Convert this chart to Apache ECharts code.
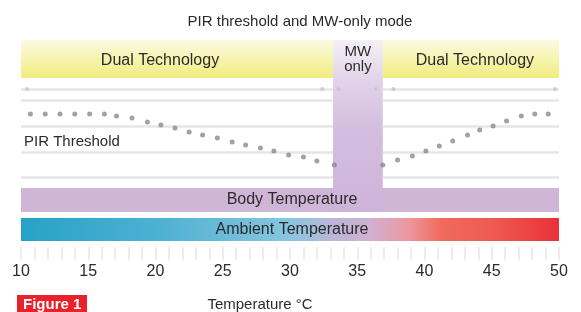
<!DOCTYPE html>
<html>
<head>
<meta charset="utf-8">
<script src="https://cdn.jsdelivr.net/npm/echarts@6/dist/echarts.min.js"></script>
<style>
  html, body { margin: 0; padding: 0; background: #fff; }
  #chart { width: 581px; height: 312px; }
</style>
</head>
<body>
<div id="chart"></div>
<script>
// temperature ranges of each mode (degC)
const dualRanges = [[10, 33.2], [36.9, 50]]
const mwRange = [33.2, 36.9]
const bodyRange = [10, 50]
const ambientRange = [10, 50]

// PIR threshold dots: temperature and relative threshold level
const pirTemps = [10.7, 11.8, 12.9, 14.0, 15.1, 16.2, 17.1, 18.25, 19.4, 20.4, 21.45, 22.5, 23.5, 24.6,
    25.7, 26.7, 27.8, 28.8, 29.9, 31.0, 32.0, 33.3,
    36.9, 38.0, 39.1, 40.1, 41.1, 42.1, 43.2, 44.1, 45.1, 46.1, 47.2, 48.2, 49.2]
const pirLevels = [133, 133, 133, 133, 133, 133, 131, 129, 125, 122, 119, 115, 112, 109,
    105, 102, 99, 96, 92, 90, 86, 82,
    82, 87, 91, 96, 101, 106, 112, 117, 121, 126, 131, 133, 133]

// small end markers on the top guide line
const markerTemps = [10.45, 32.4, 33.6, 36.4, 37.7, 49.7]
const markerLevel = 158

// faint guide lines
const guideLevels = [158, 147, 121, 95, 70]

const xTicks = [10, 15, 20, 25, 30, 35, 40, 45, 50]

// vertical layout of the bands in y-axis units (axis 0..207)
const band = {
    top: 207, yellowBottom: 169, mwBottom: 35,
    bodyTop: 59, bodyBottom: 35, ambientTop: 29, ambientBottom: 6
}

const textFont = 'Liberation Sans'
const textColor = '#2b2b2b'

const myChart = echarts.init(document.getElementById('chart'))

// guide lines run only across the dual technology zones
const guideSegments = []
guideLevels.forEach(v => {
    dualRanges.forEach(r => {
        guideSegments.push([{ xAxis: r[0], yAxis: v }, { xAxis: r[1], yAxis: v }])
    })
})

myChart.setOption({
    animation: false,
    title: {
        text: 'PIR threshold and MW-only mode',
        left: 295,
        top: 9,
        textAlign: 'center',
        textStyle: { fontFamily: textFont, fontSize: 15, fontWeight: 'normal', color: textColor }
    },
    grid: {
        left: 21,
        right: 22,
        top: 40,
        bottom: 65,
        outerBoundsMode: 'none',
        containLabel: false
    },
    xAxis: {
        type: 'value',
        min: xTicks[0],
        max: xTicks[xTicks.length - 1],
        interval: 5,
        name: 'Temperature °C',
        nameLocation: 'middle',
        nameGap: 50,
        nameTextStyle: { fontFamily: textFont, fontSize: 15, color: textColor, padding: [0, 60, 0, 0] },
        axisLine: { show: false },
        axisTick: { show: true, length: 13, lineStyle: { color: '#efe3e8', width: 1.5 } },
        minorTick: { show: true, splitNumber: 5, length: 13, lineStyle: { color: '#efe3e8', width: 1.5 } },
        splitLine: { show: false },
        axisLabel: { margin: 17, fontFamily: textFont, fontSize: 16, color: textColor }
    },
    yAxis: {
        type: 'value',
        min: 0,
        max: band.top,
        show: false
    },
    graphic: [
        {
            type: 'rect',
            left: 17,
            top: 295,
            shape: { width: 70, height: 20 },
            style: { fill: '#e8212b' }
        },
        {
            type: 'text',
            left: 23,
            top: 297,
            style: { text: 'Figure 1', fill: '#fff', font: 'bold 15px "Liberation Sans"' }
        },
        {
            type: 'text',
            left: 24,
            top: 134,
            style: { text: 'PIR Threshold', fill: textColor, font: '15px "Liberation Sans"' }
        }
    ],
    series: [
        {
            name: 'guides',
            type: 'line',
            data: [],
            z: 1,
            markLine: {
                silent: true,
                symbol: 'none',
                label: { show: false },
                lineStyle: { color: '#e6e6e6', width: 2.5, type: 'solid' },
                data: guideSegments
            }
        },
        {
            name: 'Dual Technology',
            type: 'line',
            data: [],
            z: 2,
            markArea: {
                silent: true,
                itemStyle: {
                    color: {
                        type: 'linear', x: 0, y: 0, x2: 0, y2: 1,
                        colorStops: [
                            { offset: 0, color: '#fbfae2' },
                            { offset: 0.55, color: '#f6f3ab' },
                            { offset: 1, color: '#f1ec7e' }
                        ]
                    }
                },
                label: {
                    position: 'inside',
                    fontFamily: textFont, fontSize: 16, color: textColor
                },
                data: dualRanges.map((r, i) => [
                    { name: 'Dual Technology', xAxis: r[0], yAxis: band.top,
                      label: { offset: [i === 0 ? -17 : 4, 2] } },
                    { xAxis: r[1], yAxis: band.yellowBottom }
                ])
            }
        },
        {
            name: 'Body Temperature',
            type: 'line',
            data: [],
            z: 3,
            markArea: {
                silent: true,
                itemStyle: { color: '#cfb5d6' },
                label: {
                    position: 'inside',
                    offset: [2, 0],
                    fontFamily: textFont, fontSize: 16, color: textColor
                },
                data: [[
                    { name: 'Body Temperature', xAxis: bodyRange[0], yAxis: band.bodyTop },
                    { xAxis: bodyRange[1], yAxis: band.bodyBottom }
                ]]
            }
        },
        {
            name: 'MW only',
            type: 'line',
            data: [],
            z: 4,
            markArea: {
                silent: true,
                itemStyle: {
                    color: {
                        type: 'linear', x: 0, y: 0, x2: 0, y2: 1,
                        colorStops: [
                            { offset: 0, color: '#f4f0f6' },
                            { offset: 0.25, color: '#e0d2e8' },
                            { offset: 0.5, color: '#d4bfe0' },
                            { offset: 1, color: '#cdb3d8' }
                        ]
                    }
                },
                label: {
                    position: 'insideTop',
                    distance: 4,
                    lineHeight: 15,
                    fontFamily: textFont, fontSize: 15, color: textColor
                },
                data: [[
                    { name: 'MW\nonly', xAxis: mwRange[0], yAxis: band.top },
                    { xAxis: mwRange[1], yAxis: band.mwBottom }
                ]]
            }
        },
        {
            name: 'Ambient Temperature',
            type: 'line',
            data: [],
            z: 5,
            markArea: {
                silent: true,
                itemStyle: {
                    color: {
                        type: 'linear', x: 0, y: 0, x2: 1, y2: 0,
                        colorStops: [
                            { offset: 0, color: '#27a2c6' },
                            { offset: 0.25, color: '#4db0d3' },
                            { offset: 0.5, color: '#88c6df' },
                            { offset: 0.58, color: '#bcb6d6' },
                            { offset: 0.65, color: '#d0b0d0' },
                            { offset: 0.72, color: '#ec98a0' },
                            { offset: 0.78, color: '#f06b5c' },
                            { offset: 0.88, color: '#ee5a4f' },
                            { offset: 1, color: '#e8313a' }
                        ]
                    }
                },
                label: {
                    position: 'inside',
                    offset: [2, 0],
                    fontFamily: textFont, fontSize: 16, color: textColor
                },
                data: [[
                    { name: 'Ambient Temperature', xAxis: ambientRange[0], yAxis: band.ambientTop },
                    { xAxis: ambientRange[1], yAxis: band.ambientBottom }
                ]]
            }
        },
        {
            name: 'markers',
            type: 'scatter',
            z: 6,
            symbolSize: 4,
            silent: true,
            itemStyle: { color: '#c4c4c4' },
            data: markerTemps.map(t => [t, markerLevel])
        },
        {
            name: 'PIR Threshold',
            type: 'scatter',
            z: 10,
            symbolSize: 5,
            silent: true,
            itemStyle: { color: '#8b8b8b' },
            data: pirTemps.map((t, i) => [t, pirLevels[i]])
        }
    ]
})
</script>
</body>
</html>
